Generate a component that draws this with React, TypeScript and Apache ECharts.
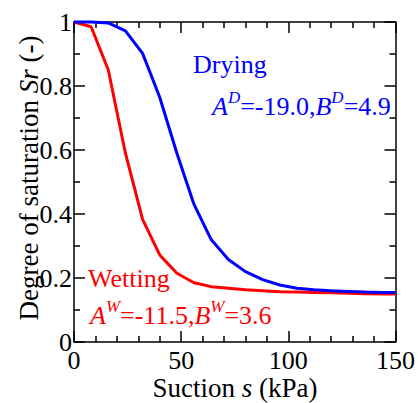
import React, { useEffect, useRef } from "react";
import * as echarts from "echarts";

const suction = [0, 8, 16, 24, 32, 40, 48, 56, 64, 72, 80, 88, 96, 104, 112, 120, 128, 136, 144, 150];
const drying = [1.0, 1.0, 0.997, 0.972, 0.902, 0.765, 0.59, 0.43, 0.32, 0.258, 0.22, 0.195, 0.178, 0.168, 0.163, 0.16, 0.158, 0.156, 0.155, 0.155];
const wetting = [1.0, 0.985, 0.85, 0.59, 0.383, 0.272, 0.215, 0.185, 0.173, 0.168, 0.163, 0.16, 0.157, 0.156, 0.155, 0.154, 0.152, 0.151, 0.15, 0.15];
const xTicks = [0, 50, 100, 150];
const yTicks = [0, 0.2, 0.4, 0.6, 0.8, 1];

const FONT = "Liberation Serif";

export default function App() {
  const ref = useRef<HTMLDivElement>(null);
  useEffect(() => {
    if (!ref.current) return;
    const chart = echarts.init(ref.current, null, { renderer: "svg" });
    const axisCommon = (show: boolean) => ({
      axisLine: { show: true, onZero: false, lineStyle: { color: "#000", width: 1.5 } },
      axisTick: { show: true, inside: true, length: 11, lineStyle: { color: "#000", width: 1.5 } },
      splitLine: { show: false },
      axisLabel: {
        show,
        color: "#000",
        fontFamily: FONT,
        fontSize: 26,
      },
    });
    const xAx = (pos: "bottom" | "top") => {
      const c: any = axisCommon(pos === "bottom");
      c.axisLabel.margin = 5;
      c.axisLabel.formatter = (v: number) => (xTicks.includes(v) ? String(v) : "");
      return {
        type: "value",
        position: pos,
        min: 0,
        max: 150,
        interval: 50,
        minorTick: { show: true, splitNumber: 5, length: 6, lineStyle: { color: "#000", width: 1.5 } },
        ...c,
      };
    };
    const yAx = (pos: "left" | "right") => {
      const c: any = axisCommon(pos === "left");
      c.axisLabel.margin = 2;
      c.axisLabel.formatter = (v: number) => {
        const t = yTicks.find((k) => Math.abs(k - v) < 1e-6);
        if (t === undefined) return "";
        return t === 0 || t === 1 ? String(t) : t.toFixed(1);
      };
      return {
        type: "value",
        position: pos,
        min: 0,
        max: 1,
        interval: 0.2,
        minorTick: { show: true, splitNumber: 2, length: 6, lineStyle: { color: "#000", width: 1.5 } },
        ...c,
      };
    };
    const italic = { fontStyle: "italic", fontFamily: FONT, fontSize: 27 };
    const sup = (fill: string) => ({
      i: { fontFamily: FONT, fontStyle: "italic", fontSize: 26, fill, lineHeight: 30, verticalAlign: "bottom" },
      n: { fontFamily: FONT, fontSize: 26, fill, lineHeight: 30, verticalAlign: "bottom" },
      s: { fontFamily: FONT, fontStyle: "italic", fontSize: 17, fill, lineHeight: 17, verticalAlign: "top" },
    });
    chart.setOption({
      animation: false,
      textStyle: { fontFamily: FONT },
      grid: { left: 74, right: 22, top: 22, bottom: 61 },
      xAxis: [xAx("bottom"), xAx("top")],
      yAxis: [yAx("left"), yAx("right")],
      series: [
        {
          type: "line",
          name: "Drying",
          data: suction.map((s, i) => [s, drying[i]]),
          showSymbol: false,
          clip: false,
          lineStyle: { color: "#0000ff", width: 3 },
          z: 3,
        },
        {
          type: "line",
          name: "Wetting",
          data: suction.map((s, i) => [s, wetting[i]]),
          showSymbol: false,
          clip: false,
          lineStyle: { color: "#ff0000", width: 3 },
          z: 2,
        },
      ],
      graphic: [
        {
          type: "text",
          x: 235,
          y: 388,
          style: {
            text: "Suction {i|s} (kPa)",
            fontFamily: FONT,
            fontSize: 27,
            fill: "#000",
            align: "center",
            verticalAlign: "middle",
            rich: { i: italic },
          },
        },
        {
          type: "text",
          x: 29,
          y: 178,
          rotation: Math.PI / 2,
          style: {
            text: "Degree of saturation {i|Sr} (-)",
            fontFamily: FONT,
            fontSize: 27,
            fill: "#000",
            align: "center",
            verticalAlign: "middle",
            rich: { i: italic },
          },
        },
        {
          type: "text",
          x: 193,
          y: 64,
          style: {
            text: "Drying",
            fontFamily: FONT,
            fontSize: 26,
            fill: "#0000ff",
            align: "left",
            verticalAlign: "middle",
          },
        },
        {
          type: "text",
          x: 212,
          y: 104,
          style: {
            text: "{i|A}{s|D}{n|=-19.0,}{i|B}{s|D}{n|=4.9}",
            fontFamily: FONT,
            fill: "#0000ff",
            align: "left",
            verticalAlign: "middle",
            rich: sup("#0000ff"),
          },
        },
        {
          type: "text",
          x: 88,
          y: 278,
          style: {
            text: "Wetting",
            fontFamily: FONT,
            fontSize: 26,
            fill: "#ff0000",
            align: "left",
            verticalAlign: "middle",
          },
        },
        {
          type: "text",
          x: 90,
          y: 313,
          style: {
            text: "{i|A}{s|W}{n|=-11.5,}{i|B}{s|W}{n|=3.6}",
            fontFamily: FONT,
            fill: "#ff0000",
            align: "left",
            verticalAlign: "middle",
            rich: sup("#ff0000"),
          },
        },
      ],
    });
    return () => chart.dispose();
  }, []);
  return (
    <div
      ref={ref}
      style={{ position: "fixed", left: 0, top: 0, width: 418, height: 403, background: "#fff" }}
    />
  );
}
